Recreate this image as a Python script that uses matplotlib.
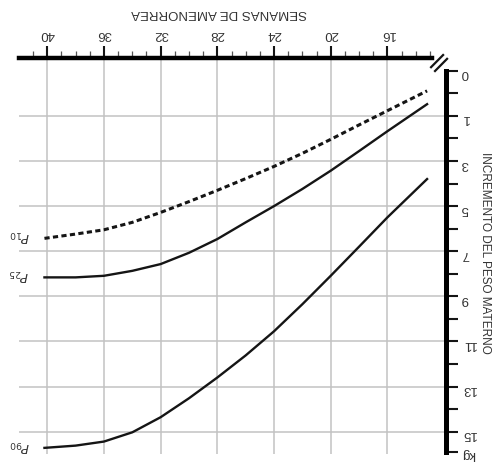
import numpy as np
import matplotlib.pyplot as plt

plt.rcParams['font.family'] = ['Liberation Sans', 'DejaVu Sans']

# Curves (weeks of amenorrhea vs axis position)
weeks = [40.2, 38, 36, 34, 32, 30, 28, 26, 24, 22, 20, 18, 16, 13.2]
p10 = [7.43, 7.24, 7.05, 6.72, 6.28, 5.80, 5.30, 4.78, 4.24, 3.66, 3.04, 2.40, 1.77, 0.89]
p25 = [9.16, 9.16, 9.09, 8.87, 8.57, 8.07, 7.46, 6.72, 6.00, 5.24, 4.43, 3.56, 2.68, 1.48]
p90 = [16.72, 16.62, 16.44, 16.03, 15.36, 14.52, 13.60, 12.62, 11.55, 10.35, 9.09, 7.80, 6.50, 4.80]

# Tick labels
week_ticks = [40, 36, 32, 28, 24, 20, 16]
kg_pos = [0, 2, 4, 6, 8, 10, 12, 14, 16, 16.9]
kg_labels = ['0', '1', '3', '5', '7', '9', '11', '13', '15', 'kg']

ink = '#151515'
txt = '#333333'
grid_c = '#c2c2c2'

fig = plt.figure(figsize=(4.92, 4.64), dpi=100)
ax = fig.add_axes([0.0385, 0.019, 0.867, 0.853])
ax.set_xlim(42, 11.9)
ax.set_ylim(17.0, -0.55)

# Grid
for w in week_ticks:
    ax.axvline(w, color=grid_c, lw=1.1, zorder=0)
for v in kg_pos[1:-1]:
    ax.axhline(v, color=grid_c, lw=1.1, zorder=0)

# Curves
ax.plot(weeks, p10, color=ink, lw=2.2, ls=(0, (1.7, 1.1)))
ax.plot(weeks, p25, color=ink, lw=1.7)
ax.plot(weeks, p90, color=ink, lw=1.7)

for lab, ser in [('$P_{10}$', p10), ('$P_{25}$', p25), ('$P_{90}$', p90)]:
    ax.text(weeks[0] + 1.8, ser[0] - 0.15, lab, rotation=180, ha='center',
            va='center', fontsize=9.5, color=txt)

# Axes (chart is shown upside down)
for s in ['left', 'bottom']:
    ax.spines[s].set_visible(False)
ax.spines['top'].set_linewidth(3.2)
ax.spines['top'].set_bounds(42, 12.87)
ax.spines['right'].set_linewidth(3.6)
ax.spines['right'].set_bounds(0, 16.9)

ax.xaxis.tick_top()
ax.yaxis.tick_right()
ax.set_xticks(week_ticks)
ax.set_xticks(np.arange(13, 42), minor=True)
ax.tick_params(axis='x', which='major', length=9, width=1.5, pad=5,
               labelsize=9.5, labelrotation=180, colors=ink, labelcolor=txt)
ax.tick_params(axis='x', which='minor', length=5, width=0.9, colors='#555555')

ax.set_yticks(kg_pos)
ax.set_yticklabels(kg_labels)
ax.set_yticks(np.arange(1, 16, 2), minor=True)
ax.tick_params(axis='y', which='both', length=8.5, width=1.5, pad=3,
               labelsize=9.5, labelrotation=180, colors=ink, labelcolor=txt)

# Axis break
for dw, du in [(0, 0), (-0.28, 0.17)]:
    ax.plot([12.92 + dw, 12.07 + dw], [-0.16 + du, -0.70 + du], color=ink,
            lw=1.6, clip_on=False)

ax.text(0.469, 1.116, 'SEMANAS DE AMENORREA', rotation=180, ha='center',
        va='center', fontsize=9.5, color=txt, transform=ax.transAxes)
ax.text(1.0926, 0.511, 'INCREMENTO DEL PESO MATERNO', rotation=270,
        ha='center', va='center', fontsize=8.5, color=txt,
        transform=ax.transAxes)

plt.savefig('out.png', dpi=100)
